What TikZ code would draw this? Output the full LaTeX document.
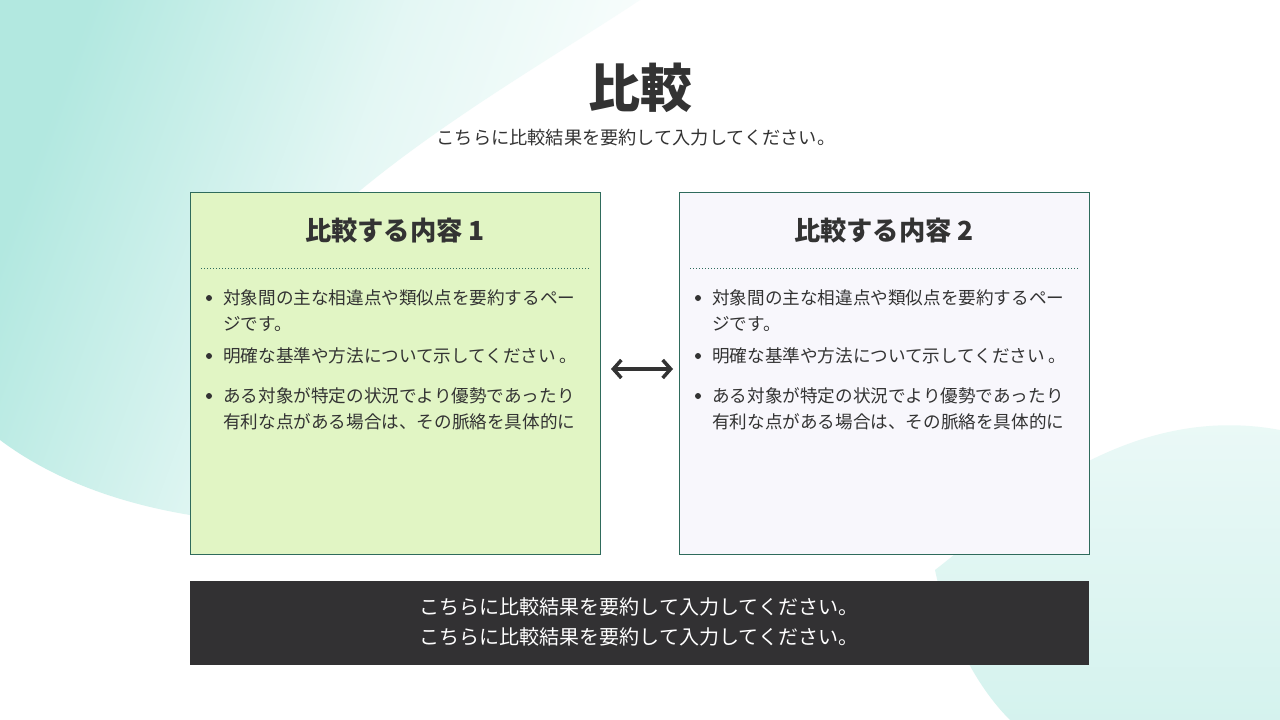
\documentclass[tikz,border=0pt]{standalone}
\usepackage{fontspec}
\setmainfont{Noto Sans CJK JP}
\usetikzlibrary{arrows.meta}
\definecolor{txt}{HTML}{333333}
\definecolor{teal1}{HTML}{B2E8E0}
\definecolor{bord}{HTML}{2F6B5C}
\definecolor{green1}{HTML}{E1F5C4}
\definecolor{lav}{HTML}{F8F7FC}
\definecolor{dark}{HTML}{323133}
\tikzset{
  box/.style={draw=bord,line width=1pt},
  head/.style={font=\fontsize{26.3}{30}\selectfont\bfseries,text=txt},
  item/.style={anchor=west,font=\fontsize{17.6}{20}\selectfont,text=txt,inner sep=0},
  dot/.style={circle,fill=txt,inner sep=0,minimum size=6pt},
  sep/.style={draw=bord,dotted,line width=1pt}
}
\begin{document}
\begin{tikzpicture}[x=1pt,y=-1pt]
\useasboundingbox (0,0) rectangle (1280,720);
\fill[white] (0,0) rectangle (1280,720);
% background blobs
\shade[left color=teal1,right color=white,middle color=teal1!35!white,shading angle=70]
  (0,0) -- (640,0) .. controls (520,80) and (300,200) .. (240,330)
  .. controls (200,420) and (230,500) .. (190,515)
  .. controls (100,500) and (40,470) .. (0,440) -- cycle;
\shade[top color=teal1!25!white,bottom color=teal1!55!white]
  (1280,430) .. controls (1120,400) and (1000,520) .. (935,570)
  .. controls (950,640) and (980,690) .. (1010,720) -- (1280,720) -- cycle;
\node[font=\fontsize{52}{60}\selectfont\bfseries,text=txt] (title) at (640,88) {比較};
\node[font=\fontsize{18.2}{20}\selectfont,text=txt] (sub) at (636,138) {こちらに比較結果を要約して入力してください。};
% boxes
\draw[box,fill=green1] (190,192) rectangle (600,554);
\draw[box,fill=lav] (679,192) rectangle (1089,554);
\foreach \x/\n in {0/1,489/2}{
  \node[head] (h\n) at (395+\x,231) {比較する内容 \n};
  \draw[sep] (201+\x,268) -- (590+\x,268);
  \node[dot] at (209+\x,298) {};
  \node[item] at (223+\x,298) {対象間の主な相違点や類似点を要約するペー};
  \node[item] at (223+\x,324) {ジです。};
  \node[dot] at (209+\x,356) {};
  \node[item] at (223+\x,356) {明確な基準や方法について示してください 。};
  \node[dot] at (209+\x,396) {};
  \node[item] at (223+\x,396) {ある対象が特定の状況でより優勢であったり};
  \node[item] at (223+\x,422) {有利な点がある場合は、その脈絡を具体的に};
}
\coordinate (al) at (611,369);
\coordinate (ar) at (673,369);
\draw[txt,line width=3.5pt,{Straight Barb[length=8pt,width=18pt]}-{Straight Barb[length=8pt,width=18pt]}] (al) -- (ar);
% bottom bar
\fill[dark] (190,581) rectangle (1089,665);
\node[font=\fontsize{20}{30}\selectfont,text=white,align=center] (bar) at (639,622) {こちらに比較結果を要約して入力してください。\\こちらに比較結果を要約して入力してください。};
\end{tikzpicture}
\end{document}
